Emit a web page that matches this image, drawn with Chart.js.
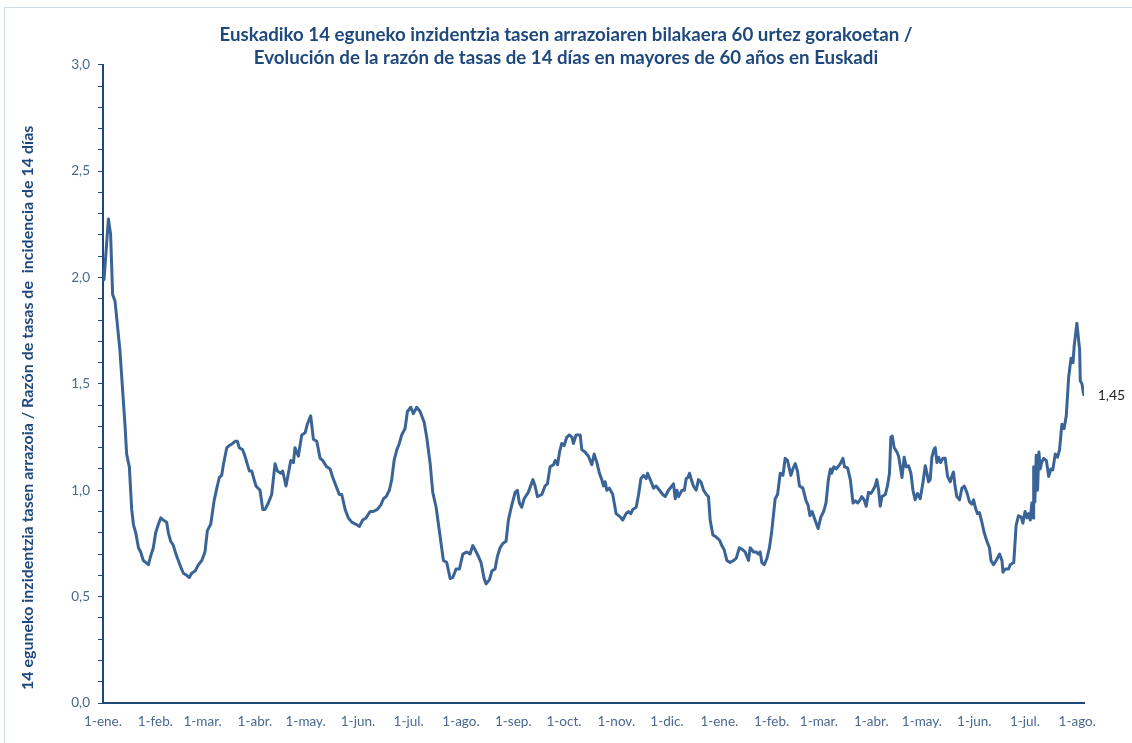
<!DOCTYPE html>
<html>
<head>
<meta charset="utf-8">
<script src="https://cdn.jsdelivr.net/npm/chart.js@4/dist/chart.umd.min.js"></script>
<style>
  html, body { margin: 0; padding: 0; background: #ffffff; }
  #wrap { width: 1132px; height: 743px; position: relative; }
</style>
</head>
<body>
<div id="wrap"><canvas id="c" width="1132" height="743"></canvas></div>
<script>
// ---- Data (day offset from 1-ene-2021, value) ----
const titleLines = [
  'Euskadiko 14 eguneko inzidentzia tasen arrazoiaren bilakaera 60 urtez gorakoetan /',
  'Evolución de la razón de tasas de 14 días en mayores de 60 años en Euskadi'
];
const yAxisTitle = '14 eguneko inzidentzia tasen arrazoia / Razón de tasas de  incidencia de 14 días';
const startDate = [2021, 0, 1];
const monthLabels = ['1-ene.','1-feb.','1-mar.','1-abr.','1-may.','1-jun.','1-jul.','1-ago.','1-sep.','1-oct.','1-nov.','1-dic.',
                     '1-ene.','1-feb.','1-mar.','1-abr.','1-may.','1-jun.','1-jul.','1-ago.'];
const lastDay = 581;
const lastLabel = '1,45';

const days = [
  0,0.6,3.2,4.5,5.7,7.1,10,13,14,15.6,17,18,19.4,21,22.3,23.9,25.5,26.9,28.2,29.8,
  31.2,32.8,34.2,35.7,37.7,38.7,40.1,41.7,43.2,44.6,46,47.6,49.6,51.1,52.5,54.5,56.5,58.5,60.4,61.8,
  63.8,65.8,67.4,68.9,70.3,71.3,73.3,74.8,76.8,78.2,79.6,80.7,82.7,84.1,86.7,88.1,89.5,90.6,93,94.6,
  96,97.9,99.9,101.9,103.3,105.3,106.4,108.4,109.8,111.2,112.8,113.7,115.7,117.7,119.7,121,123,124.6,126.6,128.6,
  130.1,132.5,134.5,136.1,138,140,141.4,143.4,145.3,147.3,149.9,151.9,153.8,155.8,158.2,160.1,162.5,164.5,166.1,167.7,
  169.6,171,172.4,174,175.5,176.9,178.9,180.3,182.3,183.8,185.8,187.8,190.2,191.7,193.7,195.3,197.3,199.2,201.6,203.6,
  205.6,207.2,209.1,211.1,213.1,215.4,217.4,219,220.4,222.3,223.9,225.7,226.9,228.9,230.3,232.2,233.6,235.2,236.8,238.7,
  240.1,242.1,244.1,245.4,246.6,248,249.4,251.9,254.6,255.9,257.3,259.9,261.8,263.2,264.8,266.8,267.8,269.2,270.4,271.7,
  273.1,274.7,276.2,277.7,278.6,280.2,282.6,283.6,285.5,287.5,289.5,290.9,292.5,294,295.4,296.4,297.4,298.4,299.9,301.9,
  303.9,306.3,307.8,309.8,311.2,312.6,313.8,315.8,317.2,318.6,320.1,321.7,322.5,324.1,326.1,327.6,329.6,331.5,333,334.9,
  336.9,337.9,338.9,339.9,340.9,342.9,344.3,345.4,346.4,347.4,348.4,349.7,351.3,352.7,354.1,355.7,357.3,358.6,359.6,361.2,
  363.2,365.2,366.5,367.9,369.5,371.4,373.4,375,376.9,378.9,380.3,382.3,383.3,385.3,386.8,388.2,389.2,390.2,391.6,393.2,
  394.7,396.1,398.1,399.5,401.1,402.7,404,405.4,407.4,408.6,410,411.3,412.5,414.5,416.4,417.6,418.7,420,421.5,423.5,
  425.2,426.8,428.2,429.6,430.8,431.6,432.8,434.2,436.7,438.2,439.2,441,442.6,444.2,445.6,446.9,448,449.4,450.8,452,
  453.4,454.8,456,457.3,458.3,459.3,460.3,461.3,463.3,464.6,465.8,466.6,467.4,468.6,470.2,471.2,472.2,473.2,474.5,475.7,
  477.1,478.5,479.7,481,482.4,484,485.6,487,488,488.9,489.9,490.9,492.3,492.9,493.9,494.9,496,497.5,498.8,500.2,
  501.8,502.7,503.7,504.7,505.7,507.3,508.7,510.1,511.6,513.2,514.6,515.6,516.6,517.9,519.1,520.5,521.9,523.5,525,525.9,
  527.4,529,531,532.4,533,534.4,536.3,537.3,539.4,540.8,542.2,543.8,544.8,546.1,547.3,548.2,549.2,550.1,550.8,551.2,
  551.9,552.7,553.5,554.3,555.1,555.9,557.1,558.7,560.1,561.4,562.5,564,565.3,566.5,567.9,569.2,570.5,571.9,573.3,574.5,
  575.2,576.8,578.4,578.8,579.8,580.8
];
const ratios = [
  2.00,1.99,2.275,2.205,1.92,1.89,1.66,1.31,1.17,1.11,0.91,0.84,0.80,0.73,0.71,0.67,0.66,0.65,0.69,0.73,
  0.80,0.84,0.87,0.86,0.85,0.80,0.76,0.74,0.70,0.67,0.64,0.61,0.60,0.59,0.61,0.62,0.65,0.67,0.71,0.81,
  0.84,0.95,1.01,1.06,1.07,1.12,1.20,1.21,1.22,1.23,1.23,1.20,1.19,1.16,1.09,1.09,1.05,1.02,1.00,0.91,
  0.91,0.94,0.98,1.125,1.09,1.08,1.09,1.02,1.08,1.14,1.13,1.20,1.16,1.26,1.27,1.31,1.35,1.24,1.23,1.15,
  1.14,1.11,1.10,1.06,1.02,0.98,0.98,0.91,0.87,0.85,0.84,0.83,0.86,0.87,0.90,0.90,0.91,0.93,0.96,0.97,
  1.00,1.05,1.14,1.19,1.22,1.26,1.29,1.37,1.39,1.36,1.39,1.37,1.32,1.25,1.13,0.99,0.92,0.81,0.67,0.66,
  0.585,0.59,0.63,0.63,0.70,0.71,0.70,0.74,0.72,0.69,0.66,0.585,0.56,0.58,0.62,0.63,0.69,0.73,0.75,0.76,
  0.86,0.93,0.99,1.00,0.94,0.92,0.96,0.99,1.05,1.02,0.97,0.98,1.02,1.03,1.11,1.12,1.14,1.12,1.18,1.22,
  1.21,1.25,1.26,1.25,1.22,1.26,1.26,1.19,1.18,1.16,1.12,1.17,1.13,1.08,1.05,1.02,1.04,1.00,1.01,0.98,
  0.89,0.875,0.86,0.89,0.90,0.89,0.91,0.92,0.98,1.055,1.07,1.055,1.08,1.05,1.01,1.02,1.00,0.98,0.97,1.00,
  1.02,1.03,0.96,1.00,0.97,1.00,1.00,1.055,1.06,1.08,1.05,1.02,1.00,1.05,1.04,1.00,0.98,0.97,0.86,0.79,
  0.78,0.765,0.74,0.72,0.67,0.66,0.67,0.68,0.73,0.72,0.71,0.67,0.73,0.71,0.71,0.70,0.71,0.66,0.65,0.68,
  0.73,0.81,0.96,0.98,1.08,1.07,1.15,1.14,1.07,1.10,1.125,1.09,1.02,1.01,0.95,0.93,0.88,0.90,0.865,0.82,
  0.875,0.90,0.94,1.05,1.10,1.08,1.11,1.10,1.125,1.15,1.11,1.105,1.05,0.94,0.95,0.94,0.95,0.97,0.955,0.925,
  0.99,0.985,1.00,1.02,1.05,1.005,0.925,0.97,0.98,1.02,1.08,1.25,1.255,1.20,1.18,1.16,1.11,1.06,1.155,1.11,
  1.115,1.08,1.00,0.955,0.985,0.96,1.035,1.115,1.08,1.04,1.05,1.155,1.195,1.20,1.13,1.155,1.13,1.15,1.15,1.065,
  1.04,1.065,1.085,1.015,0.97,0.955,1.01,1.02,0.99,0.945,0.935,0.955,0.92,0.89,0.895,0.85,0.80,0.76,0.73,0.67,
  0.65,0.67,0.70,0.67,0.615,0.63,0.63,0.65,0.66,0.835,0.88,0.875,0.845,0.90,0.87,0.89,0.86,0.94,0.87,1.11,
  0.945,1.165,1.00,1.18,1.10,1.13,1.15,1.14,1.065,1.10,1.095,1.17,1.155,1.19,1.31,1.29,1.35,1.53,1.62,1.60,
  1.68,1.785,1.66,1.515,1.50,1.45
];

// month start offsets (computed from calendar)
const t0 = Date.UTC(startDate[0], startDate[1], startDate[2]);
const monthDays = monthLabels.map((_, i) => Math.round((Date.UTC(startDate[0], startDate[1] + i, 1) - t0) / 86400000));

const points = days.map((d, i) => ({ x: d, y: ratios[i] }));

const NAVY = '#1F497D';
const FONT = 'Lato, "Open Sans", sans-serif';

const frame = {
  id: 'frame',
  beforeDraw(chart) {
    const ctx = chart.ctx;
    ctx.save();
    ctx.strokeStyle = '#D0D9E6';
    ctx.lineWidth = 1;
    ctx.strokeRect(4.5, 7.5, 1140, 760);
    ctx.restore();
  }
};

// y-axis title, placed in the space reserved by the y scale
const yTitle = {
  id: 'yTitle',
  afterDraw(chart) {
    const ctx = chart.ctx;
    const area = chart.chartArea;
    ctx.save();
    ctx.translate(28, (area.top + area.bottom) / 2 + 24);
    ctx.rotate(-Math.PI / 2);
    ctx.font = 'bold 16px ' + FONT;
    ctx.fillStyle = NAVY;
    ctx.textAlign = 'center';
    ctx.textBaseline = 'middle';
    ctx.fillText(yAxisTitle, 0, 0);
    ctx.restore();
  }
};

const endLabel = {
  id: 'endLabel',
  afterDatasetsDraw(chart) {
    const meta = chart.getDatasetMeta(0);
    const p = meta.data[meta.data.length - 1];
    const ctx = chart.ctx;
    ctx.save();
    ctx.font = '14px ' + FONT;
    ctx.fillStyle = '#262626';
    ctx.textAlign = 'left';
    ctx.textBaseline = 'middle';
    ctx.fillText(lastLabel, p.x + 14, p.y + 1);
    ctx.restore();
  }
};

new Chart(document.getElementById('c'), {
  type: 'line',
  data: {
    datasets: [{
      data: points,
      borderColor: '#3A6496',
      borderWidth: 3,
      pointRadius: 0,
      tension: 0,
      borderJoinStyle: 'round',
      borderCapStyle: 'round',
      fill: false
    }]
  },
  options: {
    responsive: false,
    animation: false,
    devicePixelRatio: 1,
    layout: { padding: { left: 0, right: 0, top: 0, bottom: 0 } },
    plugins: {
      legend: { display: false },
      tooltip: { enabled: false },
      title: {
        display: true,
        text: titleLines,
        color: NAVY,
        font: { family: FONT, size: 18.7, weight: 'bold', lineHeight: 1.25 },
        padding: { top: 23, bottom: -5 }
      }
    },
    scales: {
      x: {
        type: 'linear',
        min: 0,
        max: lastDay,
        afterBuildTicks(scale) { scale.ticks = monthDays.map(v => ({ value: v })); },
        afterFit(scale) { scale.height = 40; },
        ticks: {
          autoSkip: false,
          maxRotation: 0,
          padding: 11,
          color: '#4A6890',
          font: { family: FONT, size: 13.5 },
          callback: (v, i) => monthLabels[i]
        },
        grid: { display: true, drawOnChartArea: false, drawTicks: false },
        border: { display: true, color: NAVY, width: 2 }
      },
      y: {
        min: 0,
        max: 3,
        afterFit(scale) { scale.width = 103; },
        ticks: {
          stepSize: 0.1,
          autoSkip: false,
          maxTicksLimit: 100,
          padding: 8,
          color: '#4A6890',
          font: { family: FONT, size: 13.5 },
          callback: (v) => {
            const h = v * 2;
            return Math.abs(h - Math.round(h)) < 1e-6 ? v.toFixed(1).replace('.', ',') : '';
          }
        },
        grid: { display: true, drawOnChartArea: false, drawTicks: true, tickLength: 5, tickColor: NAVY, tickWidth: 1 },
        border: { display: true, color: NAVY, width: 2 },
        title: { display: false }
      },
      y2: {
        position: 'right',
        display: true,
        min: 0,
        max: 3,
        afterFit(scale) { scale.width = 48; },
        ticks: { display: false },
        grid: { display: false },
        border: { display: false }
      }
    }
  },
  plugins: [frame, yTitle, endLabel]
});
</script>
</body>
</html>
